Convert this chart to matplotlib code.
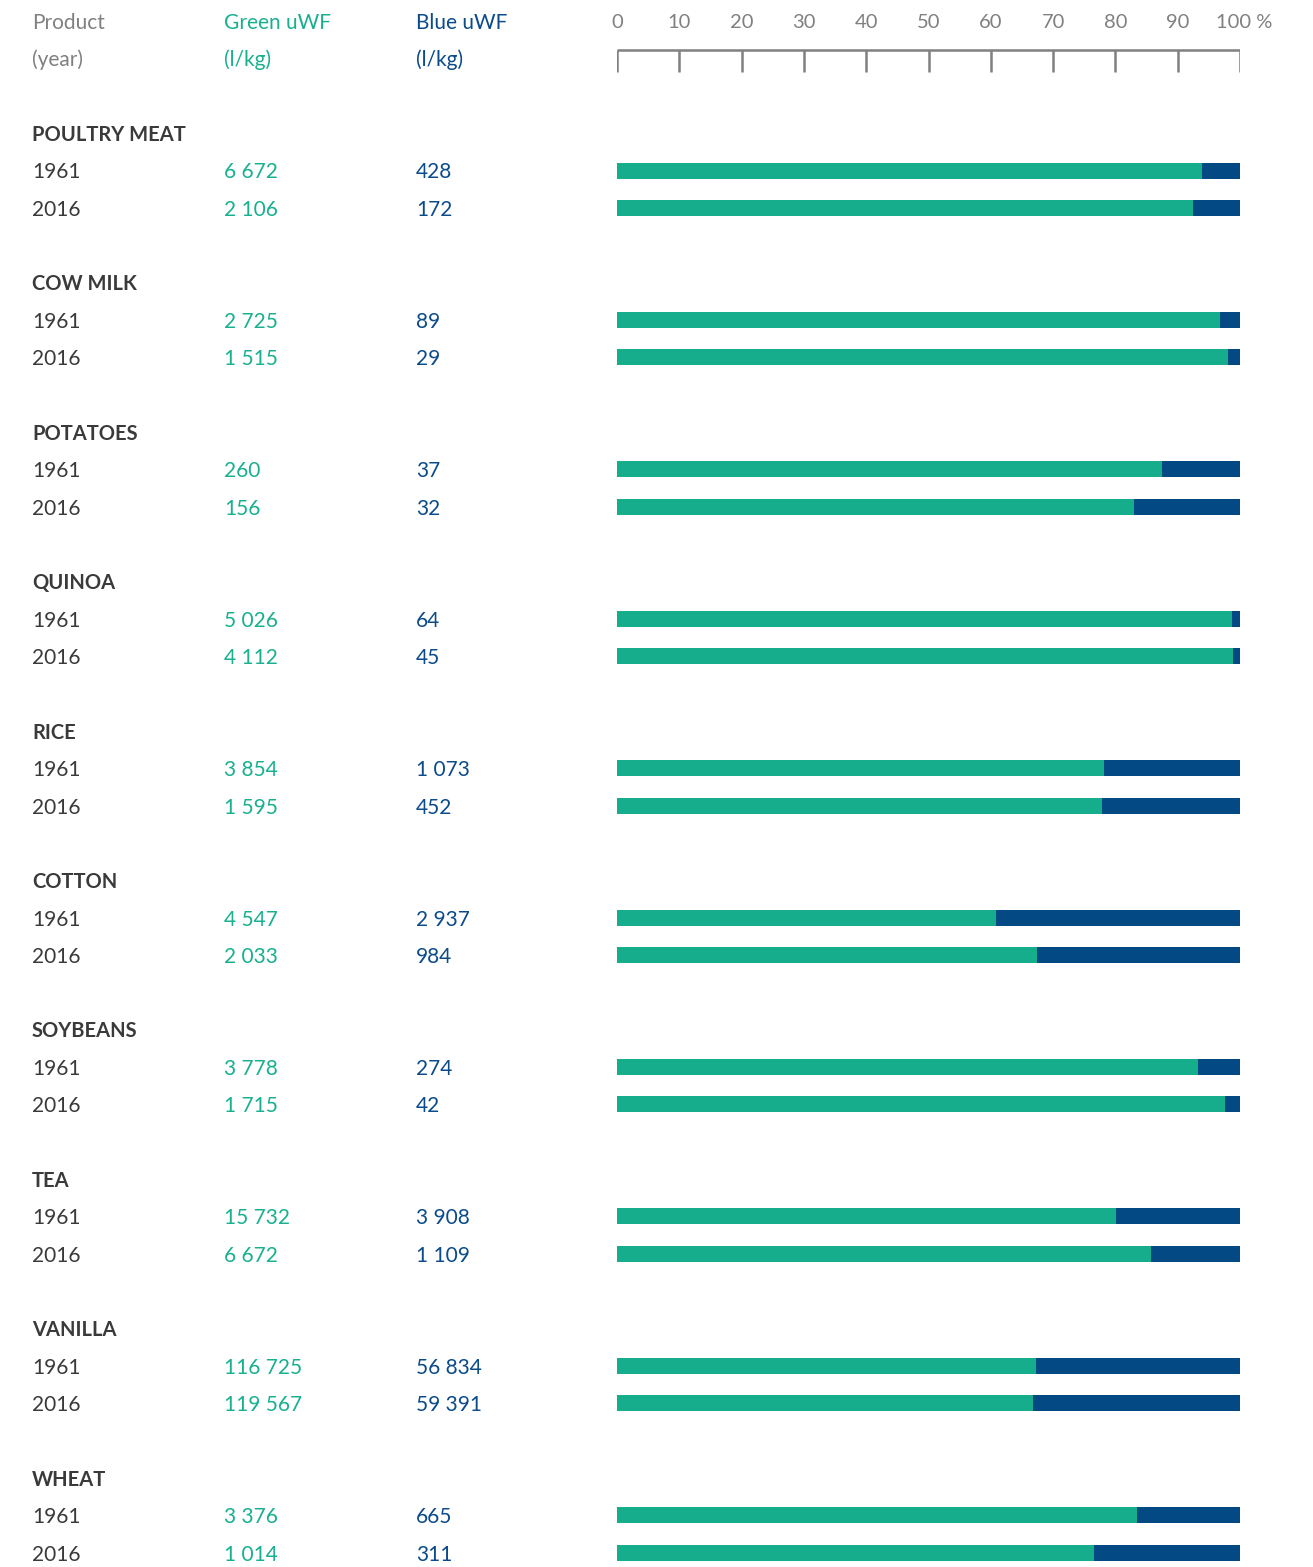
import matplotlib
matplotlib.use("Agg")
import matplotlib.pyplot as plt

products = ["POULTRY MEAT", "COW MILK", "POTATOES", "QUINOA", "RICE",
            "COTTON", "SOYBEANS", "TEA", "VANILLA", "WHEAT"]
years = ["1961", "2016"]
green_1961 = [6672, 2725, 260, 5026, 3854, 4547, 3778, 15732, 116725, 3376]
blue_1961 = [428, 89, 37, 64, 1073, 2937, 274, 3908, 56834, 665]
green_2016 = [2106, 1515, 156, 4112, 1595, 2033, 1715, 6672, 119567, 1014]
blue_2016 = [172, 29, 32, 45, 452, 984, 42, 1109, 59391, 311]
tick_values = [0, 10, 20, 30, 40, 50, 60, 70, 80, 90, 100]

GREEN = "#16ad8c"
BLUE = "#034a84"
GREEN_TXT = "#18b08f"
BLUE_TXT = "#0b4b8a"
DARK = "#3a3a3a"
GREY = "#808080"
FONT = ["Lato", "DejaVu Sans"]

W, H = 1313, 1567
fig = plt.figure(figsize=(W / 100, H / 100), dpi=100)
fig.patch.set_facecolor("white")

ax0 = fig.add_axes([0, 0, 1, 1])
ax0.set_xlim(0, W)
ax0.set_ylim(H, 0)
ax0.axis("off")

x0, x1 = 617, 1240
axb = fig.add_axes([x0 / W, 0, (x1 - x0) / W, 1])
axb.set_xlim(0, 100)
axb.set_ylim(H, 0)
axb.axis("off")


def fmt(v):
    return f"{v:,}".replace(",", " ")


fs = 15
dy = 2
col_x = [32, 224, 416]
# headers
ax0.text(col_x[0], 21 + dy, "Product", color=GREY, fontsize=fs, family=FONT, va="center")
ax0.text(col_x[0], 58 + dy, "(year)", color=GREY, fontsize=fs, family=FONT, va="center")
ax0.text(col_x[1], 21 + dy, "Green uWF", color=GREEN_TXT, fontsize=fs, family=FONT, va="center")
ax0.text(col_x[1], 58 + dy, "(l/kg)", color=GREEN_TXT, fontsize=fs, family=FONT, va="center")
ax0.text(col_x[2], 21 + dy, "Blue uWF", color=BLUE_TXT, fontsize=fs, family=FONT, va="center")
ax0.text(col_x[2], 58 + dy, "(l/kg)", color=BLUE_TXT, fontsize=fs, family=FONT, va="center")

# percent axis
axb.hlines(50, 0, 100, color=GREY, lw=1.8)
axb.vlines(tick_values, 50, 72, color=GREY, lw=1.8)
for t in tick_values:
    if t < 100:
        axb.text(t, 21 + dy, str(t), color=GREY, fontsize=fs - 0.5, family=FONT,
                 ha="center", va="center")
    else:
        axb.text(t - 3.8, 21 + dy, f"{t} %", color=GREY, fontsize=fs - 0.5, family=FONT,
                 ha="left", va="center")

step = 149.4
for i, p in enumerate(products):
    ty = 133 + i * step
    ax0.text(col_x[0], ty + dy, p, color=DARK, fontsize=fs - 0.5, family=FONT,
             fontweight="bold", va="center")
    rows = [(years[0], green_1961[i], blue_1961[i]),
            (years[1], green_2016[i], blue_2016[i])]
    for j, (yr, g, b) in enumerate(rows):
        y = ty + 37.5 * (j + 1)
        ax0.text(col_x[0], y + dy, yr, color=DARK, fontsize=fs, family=FONT, va="center")
        ax0.text(col_x[1], y + dy, fmt(g), color=GREEN_TXT, fontsize=fs, family=FONT, va="center")
        ax0.text(col_x[2], y + dy, fmt(b), color=BLUE_TXT, fontsize=fs, family=FONT, va="center")
        gp = g / (g + b) * 100
        bp = 100 - gp
        axb.barh(y, gp, height=16, left=0, color=GREEN, linewidth=0)
        axb.barh(y, bp, height=16, left=gp, color=BLUE, linewidth=0)

fig.savefig("out.png", dpi=100, facecolor="white")
